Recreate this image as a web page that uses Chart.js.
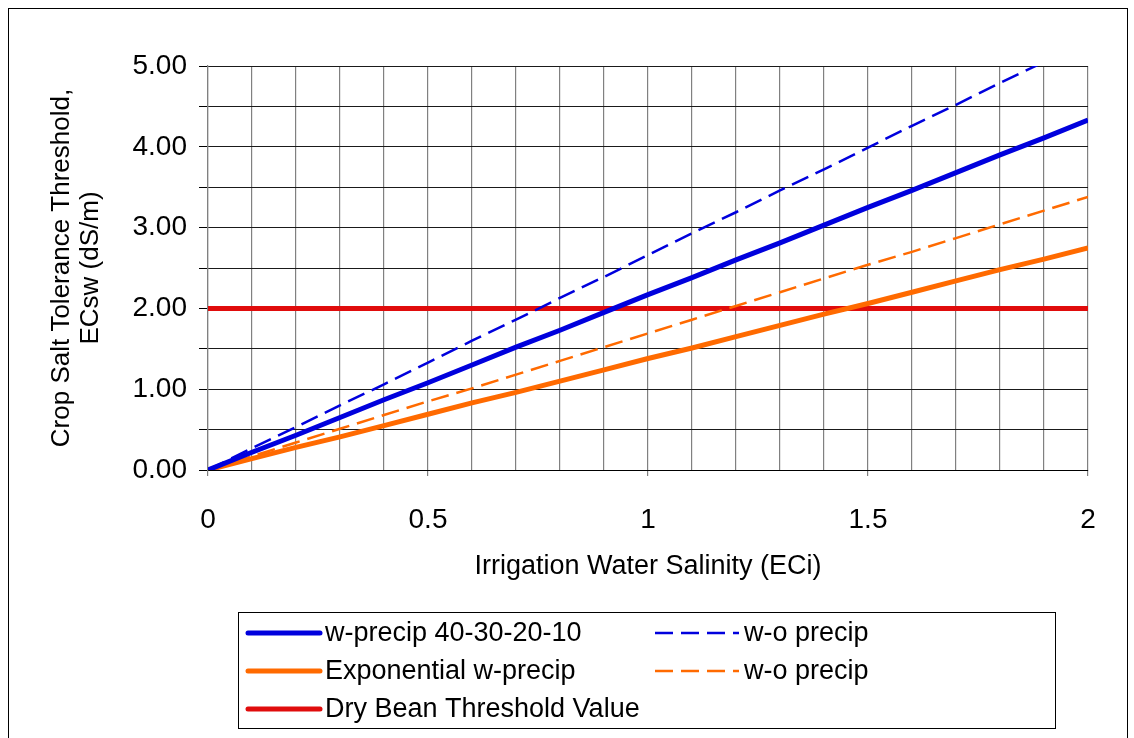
<!DOCTYPE html>
<html lang="en">
<head>
  <meta charset="UTF-8" />
  <title>Crop Salt Tolerance Threshold</title>
  <style>
    body { margin: 0; background: #fff; }
    #wrap { width: 1134px; height: 738px; }
  </style>
</head>
<body>
  <div id="wrap"><canvas id="salt" width="1134" height="738"></canvas></div>

  <script src="https://cdn.jsdelivr.net/npm/chart.js"></script>
  <script>
    // irrigation water salinity (ECi)
    const eci = [0, 0.1, 0.2, 0.3, 0.4, 0.5, 0.6, 0.7, 0.8, 0.9, 1.0,
                 1.1, 1.2, 1.3, 1.4, 1.5, 1.6, 1.7, 1.8, 1.9, 2.0];
    const wPrecip = [0, 0.22, 0.43, 0.65, 0.87, 1.08, 1.30, 1.52, 1.73, 1.95, 2.17,
                     2.38, 2.60, 2.81, 3.03, 3.25, 3.46, 3.68, 3.90, 4.11, 4.33];
    const woPrecipBlue = [0, 0.27, 0.53, 0.80, 1.06, 1.33, 1.60, 1.86, 2.13, 2.39, 2.66,
                          2.93, 3.19, 3.46, 3.72, 3.99, 4.26, 4.52, 4.79, 5.05, 5.32];
    const expPrecip = [0, 0.14, 0.28, 0.41, 0.55, 0.69, 0.83, 0.96, 1.10, 1.24, 1.38,
                       1.51, 1.65, 1.79, 1.93, 2.06, 2.20, 2.34, 2.48, 2.61, 2.75];
    const woPrecipOrange = [0, 0.17, 0.34, 0.51, 0.68, 0.85, 1.01, 1.18, 1.35, 1.52, 1.69,
                            1.86, 2.03, 2.20, 2.37, 2.54, 2.70, 2.87, 3.04, 3.21, 3.38];
    const beanThreshold = [2, 2, 2, 2, 2, 2, 2, 2, 2, 2, 2,
                           2, 2, 2, 2, 2, 2, 2, 2, 2, 2];
    const seriesNames = ['w-precip 40-30-20-10', 'w-o precip', 'Exponential w-precip', 'w-o precip', 'Dry Bean Threshold Value'];

    const FONT = 'Arial, "Liberation Sans", sans-serif';
    const BLUE = '#0000dd', ORANGE = '#ff6a00', RED = '#e00c0c';
    const DASH = [18, 8];

    const pts = ys => eci.map((x, i) => ({ x: x, y: ys[i] }));
    const onHalf = v => Math.abs(v * 2 - Math.round(v * 2)) < 1e-6;

    function line(label, ys, color, width, dash) {
      return {
        label: label, data: pts(ys), borderColor: color, backgroundColor: color,
        borderWidth: width, borderDash: dash, pointRadius: 0, tension: 0, fill: false
      };
    }

    // frame + legend box drawn on the canvas
    const frameLegend = {
      id: 'frameLegend',
      beforeDraw(chart) {
        const c = chart.ctx;
        c.save();
        c.fillStyle = '#fff';
        c.fillRect(0, 0, chart.width, chart.height);
        c.restore();
      },
      afterDraw(chart) {
        const c = chart.ctx;
        c.save();
        c.strokeStyle = '#000';
        c.lineWidth = 1;
        c.strokeRect(8.5, 8.5, 1119, 740);
        c.strokeRect(238.5, 612.5, 817, 116);

        const slots = [
          [248, 633], [655, 633],
          [248, 671], [655, 671],
          [248, 709]
        ];
        c.font = '27px ' + FONT;
        c.textBaseline = 'middle';
        c.fillStyle = '#000';
        chart.data.datasets.forEach((ds, i) => {
          const [x, y] = slots[i];
          const len = i % 2 === 1 ? 84 : 72;
          c.beginPath();
          c.strokeStyle = ds.borderColor;
          c.lineWidth = ds.borderDash.length ? 2.5 : 5;
          c.lineCap = ds.borderDash.length ? 'butt' : 'round';
          c.setLineDash(ds.borderDash);
          c.moveTo(x, y);
          c.lineTo(x + len, y);
          c.stroke();
          c.setLineDash([]);
          c.fillText(ds.label, x + len + 5, y + 1);
        });
        c.restore();
      }
    };

    new Chart(document.getElementById('salt'), {
      type: 'line',
      data: {
        datasets: [
          line(seriesNames[0], wPrecip, BLUE, 5, []),
          line(seriesNames[1], woPrecipBlue, BLUE, 2.5, DASH),
          line(seriesNames[2], expPrecip, ORANGE, 5, []),
          line(seriesNames[3], woPrecipOrange, ORANGE, 2.5, DASH),
          line(seriesNames[4], beanThreshold, RED, 5, [])
        ]
      },
      options: {
        responsive: false,
        animation: false,
        layout: { padding: { left: 8, top: 66, right: 46, bottom: 148 } },
        plugins: { legend: { display: false }, tooltip: { enabled: false } },
        scales: {
          x: {
            type: 'linear', min: 0, max: 2,
            afterFit: s => { s.height = 120; },
            ticks: {
              stepSize: 0.1, autoSkip: false, maxRotation: 0,
              color: '#000', font: { family: FONT, size: 28 }, padding: 27,
              callback: v => onHalf(v) ? String(Math.round(v * 2) / 2) : ''
            },
            grid: {
              color: '#808080', lineWidth: 1.2, tickLength: 6,
              tickColor: ctx => onHalf(ctx.tick.value) ? '#808080' : 'rgba(0,0,0,0)'
            },
            border: { color: '#000', width: 1 },
            title: {
              display: true, text: 'Irrigation Water Salinity (ECi)',
              color: '#000', font: { family: FONT, size: 27 }, padding: { top: 0, bottom: 7 }
            }
          },
          y: {
            min: 0, max: 5,
            afterFit: s => { s.width = 200; },
            ticks: {
              stepSize: 0.5, color: '#000', font: { family: FONT, size: 28 }, padding: 12,
              callback: v => Math.abs(v - Math.round(v)) < 1e-6 ? v.toFixed(2) : ''
            },
            grid: { color: '#1a1a1a', lineWidth: 1, tickLength: 9, tickColor: '#000' },
            border: { color: '#808080', width: 1.2 },
            title: {
              display: true, text: ['Crop Salt Tolerance Threshold,', 'ECsw (dS/m)'],
              color: '#000', font: { family: FONT, size: 26, lineHeight: 1.1 }, padding: { top: 40, bottom: 0 }
            }
          }
        }
      },
      plugins: [frameLegend]
    });
  </script>
</body>
</html>
